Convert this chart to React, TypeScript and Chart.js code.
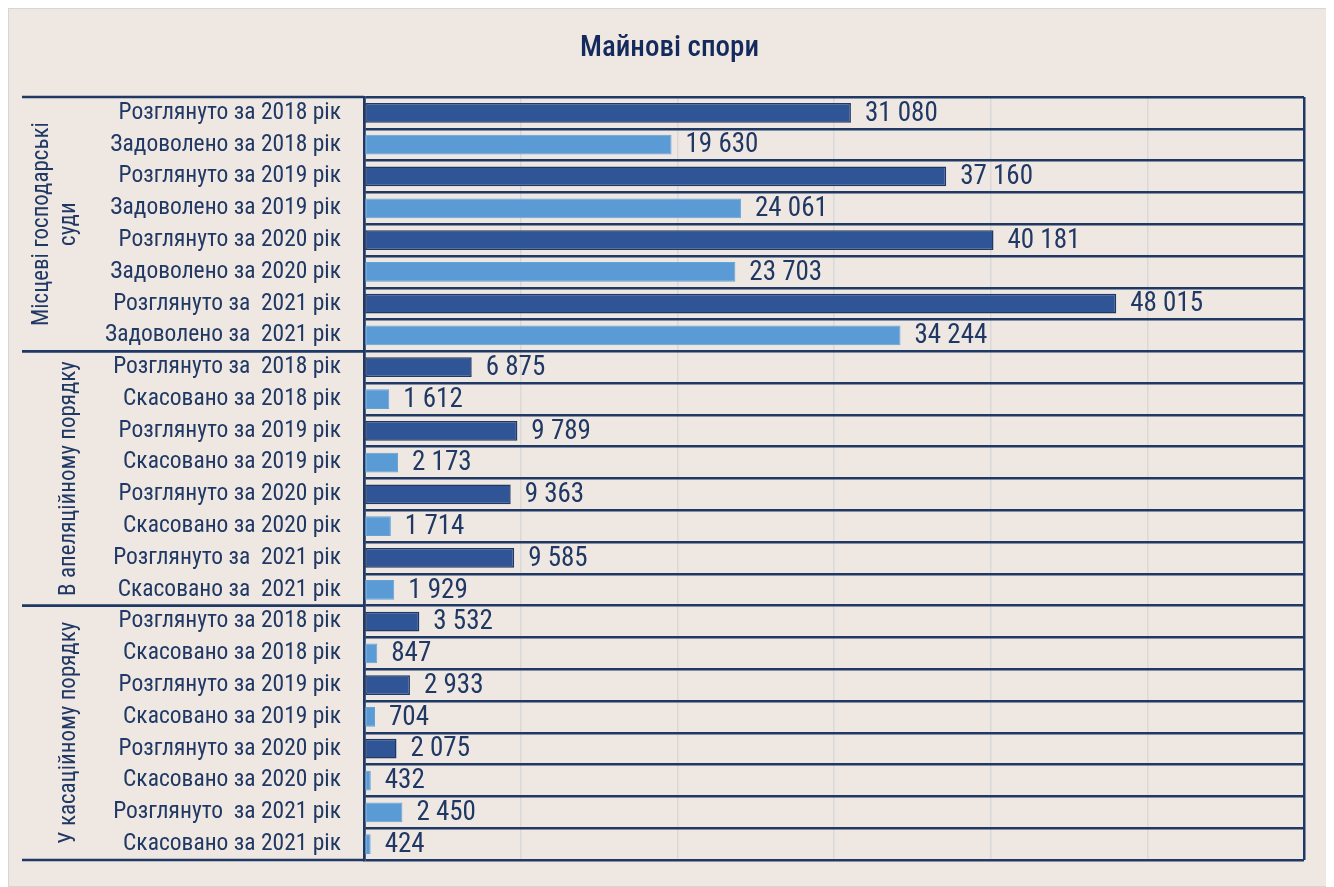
import React, { useEffect, useRef } from 'react';
import { Chart, registerables } from 'chart.js';

Chart.register(...registerables);

// ---------- data ----------
const categories = [
  'Розглянуто за 2018 рік',
  'Задоволено за 2018 рік',
  'Розглянуто за 2019 рік',
  'Задоволено за 2019 рік',
  'Розглянуто за 2020 рік',
  'Задоволено за 2020 рік',
  'Розглянуто за  2021 рік',
  'Задоволено за  2021 рік',
  'Розглянуто за  2018 рік',
  'Скасовано за 2018 рік',
  'Розглянуто за 2019 рік',
  'Скасовано за 2019 рік',
  'Розглянуто за 2020 рік',
  'Скасовано за 2020 рік',
  'Розглянуто за  2021 рік',
  'Скасовано за  2021 рік',
  'Розглянуто за 2018 рік',
  'Скасовано за 2018 рік',
  'Розглянуто за 2019 рік',
  'Скасовано за 2019 рік',
  'Розглянуто за 2020 рік',
  'Скасовано за 2020 рік',
  'Розглянуто  за 2021 рік',
  'Скасовано за 2021 рік',
];

const values = [
  31080, 19630, 37160, 24061, 40181, 23703, 48015, 34244,
  6875, 1612, 9789, 2173, 9363, 1714, 9585, 1929,
  3532, 847, 2933, 704, 2075, 432, 2450, 424,
];

const groupTitles = [
  ['Місцеві господарські', 'суди'],
  ['В апеляційному порядку'],
  ['У касаційному порядку'],
];
const groupSizes = [8, 8, 8];

const titleText = 'Майнові спори';
const xMin = 0;
const xMax = 60000;
const xStep = 10000;

// ---------- styles ----------
const BG = '#efe7e2';
const NAVY = '#1f3864';
const TEXT = '#1f3864';
const DARK_FILL = '#2f5597';
const DARK_EDGE = '#1f3864';
const LIGHT_FILL = '#5b9bd5';
const LIGHT_EDGE = '#66a2d8';
const GRID = '#d9d9d9';
const FONT = '"Roboto Condensed", Roboto, "Liberation Sans", sans-serif';

// rows shown in light tone: every second row, plus the 2021 cassation "Розглянуто" row
const isLight = (i: number) => i % 2 === 1 || i === 22;

const fmt = (v: number) => String(v).replace(/\B(?=(\d{3})+(?!\d))/g, ' ');

const overlayPlugin = {
  id: 'overlay',
  afterDatasetsDraw(chart: any) {
    const ctx = chart.ctx as CanvasRenderingContext2D;
    const meta = chart.getDatasetMeta(0);
    const area = chart.chartArea;
    const y = chart.scales.y;
    ctx.save();
    // value labels
    ctx.font = `400 27px ${FONT}`;
    ctx.fillStyle = TEXT;
    ctx.textBaseline = 'middle';
    ctx.textAlign = 'left';
    meta.data.forEach((bar: any, i: number) => {
      ctx.fillText(fmt(values[i]), bar.x + 14, bar.y + 1);
    });
    // group separators and titles
    const half = (y.getPixelForTick(1) - y.getPixelForTick(0)) / 2;
    let start = 0;
    ctx.strokeStyle = NAVY;
    ctx.lineWidth = 2.5;
    groupSizes.forEach((n, g) => {
      const top = y.getPixelForTick(start) - half;
      const bottom = y.getPixelForTick(start + n - 1) + half;
      ctx.beginPath();
      ctx.moveTo(14, top);
      ctx.lineTo(area.left, top);
      ctx.moveTo(14, bottom);
      ctx.lineTo(area.left, bottom);
      ctx.stroke();
      const lines = groupTitles[g];
      const cy = (top + bottom) / 2;
      ctx.save();
      ctx.translate(0, cy);
      ctx.rotate(-Math.PI / 2);
      ctx.font = `400 23px ${FONT}`;
      ctx.fillStyle = TEXT;
      ctx.textAlign = 'center';
      ctx.textBaseline = 'middle';
      const lastX = 61;
      lines.forEach((ln, k) => {
        const x = lastX - (lines.length - 1 - k) * 27;
        ctx.fillText(ln, 0, x);
      });
      ctx.restore();
      start += n;
    });
    ctx.restore();
  },
};

export default function App() {
  const ref = useRef<HTMLCanvasElement | null>(null);

  useEffect(() => {
    document.documentElement.style.overflow = 'hidden';
    const canvas = ref.current;
    if (!canvas) return;
    const chart = new Chart(canvas, {
      type: 'bar',
      data: {
        labels: categories,
        datasets: [
          {
            data: values,
            backgroundColor: values.map((_, i) => (isLight(i) ? LIGHT_FILL : DARK_FILL)),
            borderColor: values.map((_, i) => (isLight(i) ? LIGHT_EDGE : DARK_EDGE)),
            borderWidth: values.map((_, i) => (isLight(i) ? 1 : 1.5)),
            borderSkipped: false,
            barPercentage: 0.62,
            categoryPercentage: 1,
          },
        ],
      },
      options: {
        indexAxis: 'y',
        responsive: false,
        maintainAspectRatio: false,
        animation: false,
        layout: { padding: { left: 27, right: 27, top: 0, bottom: 27 } },
        plugins: {
          legend: { display: false },
          tooltip: { enabled: false },
          title: {
            display: true,
            text: titleText,
            color: '#14295c',
            font: { family: FONT, size: 29, weight: '500' },
            padding: { top: 23, bottom: 31.2 },
          },
        },
        scales: {
          x: {
            type: 'linear',
            min: xMin,
            max: xMax,
            ticks: { stepSize: xStep, display: false },
            grid: {
              drawTicks: false,
              color: (c: any) => (c.tick && (c.tick.value === xMin || c.tick.value === xMax) ? NAVY : GRID),
              lineWidth: (c: any) => (c.tick && (c.tick.value === xMin || c.tick.value === xMax) ? 2.5 : 1.5),
            },
            border: { display: false },
            afterFit: (s: any) => {
              s.height = 0;
              s.paddingLeft = 0;
              s.paddingRight = 0;
            },
          },
          y: {
            type: 'category',
            offset: true,
            ticks: {
              autoSkip: false,
              color: TEXT,
              padding: 23,
              font: { family: FONT, size: 23.5 },
            },
            grid: {
              offset: true,
              drawTicks: false,
              color: NAVY,
              lineWidth: 2.5,
            },
            border: { display: true, color: NAVY, width: 2.5 },
            afterFit: (s: any) => {
              s.width = 329;
              s.paddingTop = 0;
              s.paddingBottom = 0;
            },
          },
        },
      },
      plugins: [overlayPlugin],
    });
    return () => chart.destroy();
  }, []);

  return (
    <div
      style={{
        position: 'relative',
        width: 1323,
        height: 879,
        background: BG,
        boxSizing: 'border-box',
        border: '1px solid #d6d6d6',
      }}
    >
      <canvas ref={ref} width={1323} height={879} style={{ position: 'absolute', left: -1, top: -1 }} />
    </div>
  );
}
